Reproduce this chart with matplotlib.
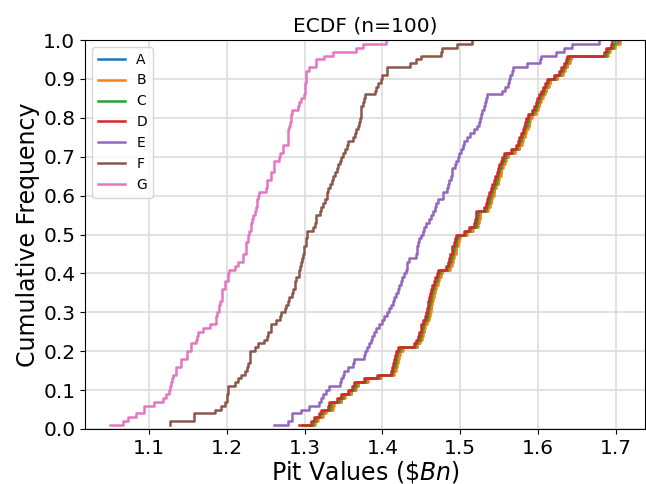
import matplotlib
matplotlib.use("Agg")
import matplotlib.pyplot as plt
import numpy as np

# sorted pit values for each scenario
labels = ["A", "B", "C", "D", "E", "F", "G"]

A = [1.299, 1.312, 1.316, 1.322, 1.326, 1.335, 1.336, 1.346, 1.351, 1.359,
     1.365, 1.368, 1.380, 1.397, 1.414, 1.416, 1.418, 1.419, 1.420, 1.421,
     1.425, 1.444, 1.447, 1.450, 1.451, 1.453, 1.454, 1.456, 1.459, 1.460,
     1.461, 1.462, 1.463, 1.464, 1.465, 1.466, 1.468, 1.470, 1.472, 1.474,
     1.476, 1.486, 1.488, 1.490, 1.491, 1.493, 1.494, 1.496, 1.497, 1.499,
     1.508, 1.515, 1.522, 1.523, 1.524, 1.525, 1.535, 1.537, 1.539, 1.540,
     1.542, 1.543, 1.545, 1.548, 1.549, 1.551, 1.552, 1.554, 1.556, 1.558,
     1.561, 1.569, 1.575, 1.578, 1.580, 1.582, 1.584, 1.586, 1.588, 1.589,
     1.591, 1.596, 1.599, 1.601, 1.603, 1.605, 1.608, 1.610, 1.613, 1.615,
     1.624, 1.631, 1.634, 1.637, 1.640, 1.642, 1.689, 1.692, 1.698, 1.703]

B = [1.300, 1.313, 1.317, 1.323, 1.327, 1.336, 1.338, 1.347, 1.352, 1.360,
     1.366, 1.369, 1.381, 1.398, 1.415, 1.417, 1.419, 1.420, 1.421, 1.422,
     1.426, 1.445, 1.448, 1.451, 1.452, 1.454, 1.455, 1.457, 1.460, 1.461,
     1.462, 1.463, 1.464, 1.465, 1.466, 1.467, 1.469, 1.471, 1.473, 1.475,
     1.477, 1.487, 1.489, 1.491, 1.492, 1.494, 1.495, 1.497, 1.498, 1.500,
     1.509, 1.516, 1.523, 1.524, 1.525, 1.526, 1.536, 1.538, 1.540, 1.541,
     1.543, 1.544, 1.546, 1.549, 1.550, 1.552, 1.553, 1.555, 1.557, 1.559,
     1.562, 1.570, 1.576, 1.579, 1.581, 1.583, 1.585, 1.587, 1.589, 1.590,
     1.592, 1.597, 1.600, 1.602, 1.604, 1.606, 1.609, 1.611, 1.614, 1.616,
     1.625, 1.632, 1.635, 1.638, 1.641, 1.643, 1.690, 1.693, 1.699, 1.705]

C = [1.297, 1.310, 1.314, 1.320, 1.324, 1.332, 1.334, 1.344, 1.349, 1.357,
     1.363, 1.366, 1.378, 1.395, 1.412, 1.414, 1.416, 1.417, 1.418, 1.419,
     1.423, 1.442, 1.445, 1.448, 1.449, 1.451, 1.452, 1.454, 1.457, 1.458,
     1.459, 1.460, 1.461, 1.462, 1.463, 1.464, 1.466, 1.468, 1.470, 1.472,
     1.474, 1.483, 1.486, 1.488, 1.489, 1.491, 1.492, 1.494, 1.495, 1.497,
     1.506, 1.513, 1.520, 1.521, 1.522, 1.523, 1.533, 1.535, 1.537, 1.538,
     1.540, 1.541, 1.543, 1.546, 1.547, 1.549, 1.550, 1.552, 1.554, 1.556,
     1.559, 1.567, 1.573, 1.576, 1.578, 1.580, 1.582, 1.584, 1.586, 1.587,
     1.589, 1.594, 1.597, 1.599, 1.601, 1.603, 1.606, 1.608, 1.611, 1.613,
     1.622, 1.629, 1.632, 1.635, 1.638, 1.640, 1.687, 1.690, 1.696, 1.699]

D = [1.293, 1.308, 1.312, 1.318, 1.3215, 1.330, 1.3315, 1.342, 1.347, 1.355,
     1.361, 1.363, 1.376, 1.3935, 1.4107, 1.4125, 1.414, 1.415, 1.416, 1.417,
     1.420, 1.4406, 1.4436, 1.446, 1.4474, 1.449, 1.450, 1.4517, 1.455, 1.456,
     1.457, 1.458, 1.459, 1.460, 1.461, 1.462, 1.464, 1.466, 1.468, 1.470,
     1.471, 1.4816, 1.484, 1.486, 1.487, 1.489, 1.490, 1.492, 1.493, 1.4944,
     1.505, 1.5116, 1.518, 1.519, 1.520, 1.5202, 1.531, 1.5332, 1.535, 1.536,
     1.5373, 1.539, 1.541, 1.5437, 1.545, 1.547, 1.548, 1.5501, 1.552, 1.554,
     1.5566, 1.5652, 1.5716, 1.574, 1.576, 1.578, 1.5802, 1.582, 1.584, 1.585,
     1.5866, 1.592, 1.5951, 1.597, 1.599, 1.601, 1.6037, 1.606, 1.609, 1.6114,
     1.6208, 1.6272, 1.630, 1.633, 1.636, 1.638, 1.6851, 1.6873, 1.6937, 1.6958]

E = [1.2608, 1.279, 1.283, 1.283, 1.295, 1.3058, 1.3186, 1.321, 1.323, 1.327,
     1.3315, 1.3456, 1.346, 1.349, 1.3507, 1.355, 1.3615, 1.3636, 1.3764, 1.378,
     1.380, 1.383, 1.385, 1.387, 1.389, 1.392, 1.3957, 1.400, 1.402, 1.406,
     1.408, 1.4107, 1.413, 1.415, 1.418, 1.420, 1.4214, 1.424, 1.4257, 1.428,
     1.430, 1.4313, 1.432, 1.4335, 1.443, 1.444, 1.445, 1.446, 1.447, 1.449,
     1.4517, 1.454, 1.456, 1.460, 1.462, 1.4645, 1.467, 1.469, 1.471, 1.4774,
     1.478, 1.4835, 1.484, 1.486, 1.488, 1.489, 1.490, 1.493, 1.495, 1.497,
     1.499, 1.501, 1.503, 1.505, 1.509, 1.512, 1.5175, 1.521, 1.524, 1.525,
     1.527, 1.528, 1.530, 1.532, 1.533, 1.5346, 1.554, 1.558, 1.562, 1.563,
     1.5637, 1.566, 1.5684, 1.586, 1.603, 1.6034, 1.6226, 1.633, 1.644, 1.678]

F = [1.126, 1.127, 1.158, 1.158, 1.184, 1.192, 1.197, 1.200, 1.200, 1.201,
     1.201, 1.210, 1.214, 1.218, 1.223, 1.226, 1.227, 1.229, 1.229, 1.230,
     1.236, 1.240, 1.248, 1.252, 1.253, 1.257, 1.257, 1.263, 1.268, 1.2695,
     1.275, 1.276, 1.279, 1.280, 1.284, 1.2845, 1.287, 1.288, 1.289, 1.292,
     1.293, 1.294, 1.295, 1.297, 1.298, 1.299, 1.299, 1.301, 1.302, 1.303,
     1.303, 1.310, 1.313, 1.314, 1.3146, 1.319, 1.321, 1.323, 1.326, 1.328,
     1.329, 1.330, 1.333, 1.335, 1.336, 1.339, 1.341, 1.3425, 1.345, 1.347,
     1.349, 1.352, 1.354, 1.355, 1.362, 1.365, 1.366, 1.368, 1.370, 1.371,
     1.372, 1.372, 1.3725, 1.375, 1.376, 1.377, 1.390, 1.392, 1.394, 1.398,
     1.400, 1.4056, 1.406, 1.4355, 1.443, 1.450, 1.4756, 1.477, 1.4957, 1.5158]

G = [1.050, 1.0655, 1.072, 1.083, 1.0935, 1.0935, 1.1056, 1.117, 1.1216, 1.125,
     1.126, 1.128, 1.129, 1.130, 1.134, 1.134, 1.141, 1.141, 1.149, 1.149,
     1.153, 1.153, 1.160, 1.161, 1.162, 1.169, 1.178, 1.186, 1.186, 1.187,
     1.190, 1.190, 1.191, 1.193, 1.193, 1.194, 1.198, 1.198, 1.201, 1.201,
     1.202, 1.210, 1.214, 1.221, 1.221, 1.224, 1.224, 1.225, 1.227, 1.227,
     1.228, 1.231, 1.231, 1.232, 1.233, 1.236, 1.237, 1.238, 1.239, 1.240,
     1.241, 1.250, 1.251, 1.252, 1.257, 1.257, 1.260, 1.260, 1.261, 1.267,
     1.268, 1.272, 1.272, 1.278, 1.278, 1.279, 1.279, 1.280, 1.281, 1.282,
     1.282, 1.283, 1.291, 1.292, 1.295, 1.299, 1.300, 1.300, 1.300, 1.301,
     1.301, 1.302, 1.306, 1.3146, 1.3146, 1.325, 1.336, 1.366, 1.3747, 1.404]

series = [A, B, C, D, E, F, G]

fig = plt.figure(figsize=(6.46, 4.84), dpi=100)
ax = fig.add_axes([85 / 646, 1 - 429 / 484, (645 - 85) / 646, (429 - 40) / 484])

for name, vals in zip(labels, series):
    x = np.sort(np.array(vals))
    y = np.arange(1, len(x) + 1) / len(x)
    ax.step(x, y, where="post", label=name, linewidth=1.8)

ax.set_ylim(0, 1)
ax.set_yticks(np.arange(0, 1.01, 0.1))
ax.grid(True, color="#dddddd", linewidth=1.2)
ax.set_axisbelow(True)
ax.tick_params(labelsize=14.5)
ax.set_title("ECDF (n=100)", fontsize=14.5)
ax.set_xlabel(r"Pit Values (\$$Bn$)", fontsize=17, labelpad=1)
ax.set_ylabel("Cumulative Frequency", fontsize=17, labelpad=2)
ax.legend(loc="upper left", fontsize=10)

fig.savefig("out.png", dpi=100)
